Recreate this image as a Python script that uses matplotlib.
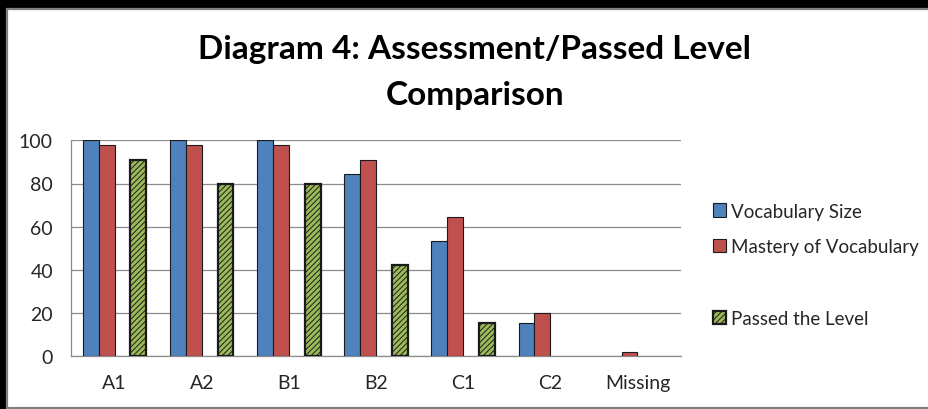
import numpy as np
import matplotlib
matplotlib.use('Agg')
import matplotlib.pyplot as plt
from matplotlib.patches import Rectangle, Patch

# values (percent)
levels = ['A1', 'A2', 'B1', 'B2', 'C1', 'C2', 'Missing']
vocab_size = [100, 100, 100, 84.4, 53.3, 15.6, 0]
mastery = [97.8, 97.8, 97.8, 91.1, 64.4, 20.0, 2.2]
passed = [91.1, 80.0, 80.0, 42.2, 15.6, 0, 0]
yticks = [0, 20, 40, 60, 80, 100]

plt.rcParams['font.family'] = ['Lato', 'DejaVu Sans']
plt.rcParams['hatch.linewidth'] = 0.7

W, H = 929, 410
fig = plt.figure(figsize=(W / 100, H / 100), dpi=100, facecolor='black')

# white chart box with grey border (black outside, like the screenshot)
box = Rectangle((7.5 / W, 1 - 408.5 / H), (940 - 7.5) / W, (408.5 - 9.5) / H,
                transform=fig.transFigure, facecolor='white',
                edgecolor='#808080', linewidth=1.6, zorder=-10)
fig.patches.append(box)

ax = fig.add_axes([71 / W, 1 - 357.3 / H, 610 / W, 216 / H])
ax.set_facecolor('white')

x = np.arange(len(levels))
w = 1 / 5.5  # 4 slots per group (third one empty), gap width 150%

b1 = ax.bar(x - 1.5 * w, vocab_size, w, color='#4F81BD', edgecolor='#1a1a1a',
            linewidth=0.8, label='Vocabulary Size', zorder=3)
b2 = ax.bar(x - 0.5 * w, mastery, w, color='#C0504D', edgecolor='#1a1a1a',
            linewidth=0.8, label='Mastery of Vocabulary', zorder=3)
b3 = ax.bar(x + 1.5 * w, passed, w, color='#9BBB59', edgecolor='#1a1a1a',
            linewidth=1.6, hatch='//////', label='Passed the Level', zorder=3)

for bars in (b1, b2, b3):
    for p in bars.patches:
        if p.get_height() == 0:
            p.set_visible(False)

ax.set_xlim(-0.5, len(levels) - 0.5)
ax.set_ylim(0, 100)
ax.set_yticks(yticks)
ax.set_xticks(x)
ax.set_xticklabels(levels)
ax.tick_params(axis='both', length=0, labelsize=14, colors='#262626')
ax.tick_params(axis='y', pad=13)
ax.tick_params(axis='x', pad=13)
ax.yaxis.grid(True, color='#8c8c8c', linewidth=0.9, zorder=0)
ax.set_axisbelow(True)
for s in ['top', 'right']:
    ax.spines[s].set_visible(False)
for s in ['left', 'bottom']:
    ax.spines[s].set_color('#8c8c8c')
    ax.spines[s].set_linewidth(0.9)

# legend with an empty third entry, as in the source chart
blank = Patch(facecolor='none', edgecolor='none')
handles = [b1, b2, blank, b3]
labels = ['Vocabulary Size', 'Mastery of Vocabulary', ' ', 'Passed the Level']
leg = ax.legend(handles, labels, loc='center left', bbox_to_anchor=(1.04, 0.424),
                frameon=False, fontsize=13.5, handlelength=0.7, handleheight=0.7,
                handletextpad=0.25, labelspacing=1.0, borderaxespad=0)
for t in leg.get_texts():
    t.set_color('#262626')

fig.text(475 / W, 1 - 50 / H, 'Diagram 4: Assessment/Passed Level',
         ha='center', va='center', fontsize=24, fontweight='bold')
fig.text(475 / W, 1 - 95 / H, 'Comparison',
         ha='center', va='center', fontsize=24, fontweight='bold')

fig.savefig('out.png', dpi=100, facecolor=fig.get_facecolor())
